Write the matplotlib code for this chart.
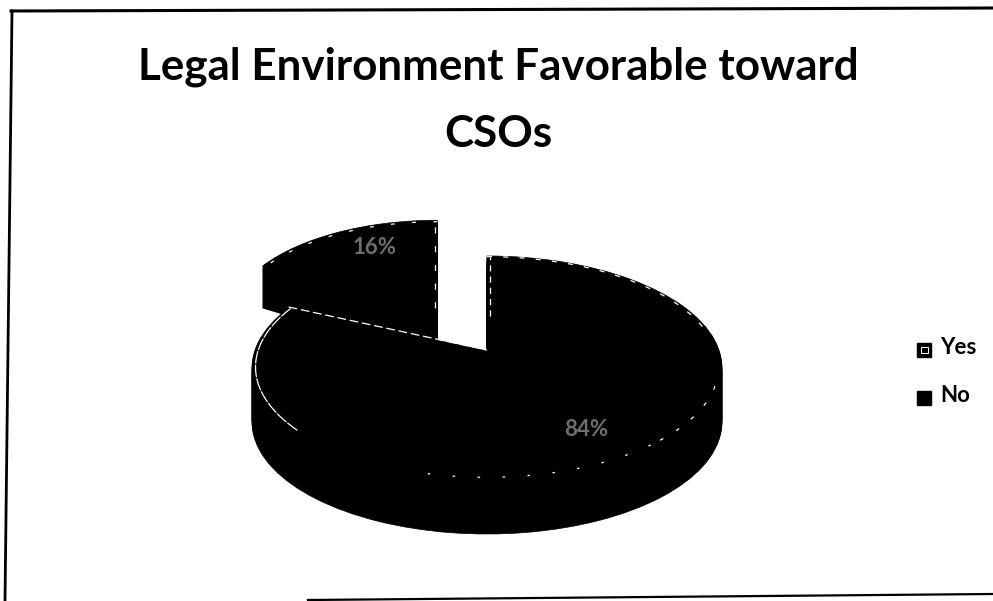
import numpy as np
import matplotlib
matplotlib.use("Agg")
import matplotlib.pyplot as plt
from matplotlib.patches import Rectangle

categories = ["Yes", "No"]
shares = [16, 84]
share_labels = ["16%", "84%"]
title_lines = ["Legal Environment Favorable toward", "CSOs"]

W, H = 993, 601
plt.rcParams['font.family'] = ['Lato', 'DejaVu Sans']
fig = plt.figure(figsize=(W / 100, H / 100), dpi=100, facecolor='white')

# Full-figure axes for frame and text, in image pixels
bg = fig.add_axes([0, 0, 1, 1])
bg.set_xlim(0, W); bg.set_ylim(H, 0); bg.axis('off')
bg.plot([12, 5], [11, 601], color='black', lw=2.0)
bg.plot([11, W], [11, 8], color='black', lw=2.2)
bg.plot([308, W], [600, 594], color='black', lw=1.6)

bg.text(498, 67, title_lines[0], ha='center', va='center', fontsize=31.7, fontweight='bold', color='black')
bg.text(498, 134, title_lines[1], ha='center', va='center', fontsize=31.7, fontweight='bold', color='black')

# Pie axes: one data unit = rx pixels wide, ry pixels high
cx, cy, rx, ry = 487, 367, 235, 112
xr = 1.3
pie_ax = fig.add_axes([(cx - xr * rx) / W, (H - (cy + xr * ry)) / H,
                       2 * xr * rx / W, 2 * xr * ry / H])
pie_ax.patch.set_alpha(0)

yes_angle = 360 * shares[0] / sum(shares)
start = 90 + yes_angle
explode = [0.44, 0]
yes_radius = 0.88
yes_dy = 5 / ry
apex_lift = 17 / ry   # the perspective apex sits above the ellipse centre


def draw_yes(depth_px):
    wedges, _ = pie_ax.pie(shares, explode=explode, startangle=start, counterclock=False,
                           colors=['black', 'black'], radius=yes_radius,
                           center=(0, yes_dy - depth_px / ry),
                           wedgeprops=dict(edgecolor='black', linewidth=0.5))
    wedges[1].set_visible(False)
    return wedges[0]


def draw_no(depth_px):
    wedges, _ = pie_ax.pie(shares, explode=explode, startangle=start, counterclock=False,
                           colors=['black', 'black'], radius=1.0,
                           center=(0, -depth_px / ry),
                           wedgeprops=dict(edgecolor='black', linewidth=0.5))
    wedges[0].set_visible(False)
    w = wedges[1]
    p = w.get_path()
    c = np.array(w.center)
    p.vertices[np.all(np.isclose(p.vertices, c), axis=1)] = c + [0, apex_lift]
    return w


for depth in range(42, -1, -1):
    yes_wedge = draw_yes(depth)
for depth in range(55, -1, -2):
    no_wedge = draw_no(depth)

# Scanned highlights along the slice edges
hl = dict(color='white', lw=0.9, zorder=8)

# Yes: outer arc and right-hand radial edge
yc = np.array(yes_wedge.center)
t = np.radians(np.linspace(0, yes_angle, 40))
r = yes_radius * 0.985
pie_ax.plot(yc[0] - r * np.sin(t), yc[1] + r * np.cos(t), ls=(0, (3, 14)), **hl)
pie_ax.plot([yc[0] - 0.008] * 2, [yc[1] + 0.1, yc[1] + r], ls=(0, (5, 10)), **hl)

# No: notch edges
apex = np.array([0, apex_lift])
pie_ax.plot([0.012, 0.012], [apex[1] + 0.3, 0.985], ls=(0, (5, 4)), **hl)
a = np.radians(yes_angle)
corner = np.array([-np.sin(a), np.cos(a)])
pie_ax.plot([corner[0], apex[0]], [corner[1], apex[1]], ls=(0, (7, 3)), **hl)

# No: outer arc pieces, running clockwise from the top
r = 0.985
for a0, a1, ls in [(0, 70, (0, (4, 9))), (100, 135, (0, (3, 12))), (135, 200, (0, (2, 18))),
                   (235, 302, (0, (10, 1)))]:
    t = np.radians(np.linspace(a0, a1, 60))
    pie_ax.plot(r * np.sin(t), r * np.cos(t), ls=ls, **hl)

pie_ax.set_aspect('auto')
pie_ax.set_xlim(-xr, xr)
pie_ax.set_ylim(-xr, xr)
pie_ax.axis('off')

# Slice labels
fig.text(375 / W, 1 - 247 / H, share_labels[0], ha='center', va='center', fontsize=16,
         fontweight='bold', color='#6e6e6e')
fig.text(586 / W, 1 - 430 / H, share_labels[1], ha='center', va='center', fontsize=16,
         fontweight='bold', color='#6e6e6e')

# Legend
for name, my, ty, inner in zip(categories, [350, 398], [348, 396], [True, False]):
    bg.add_patch(Rectangle((917, my - 7), 14, 14, facecolor='black', edgecolor='black', zorder=5))
    if inner:
        bg.add_patch(Rectangle((921, my - 3), 7, 6, facecolor='none', edgecolor='white', lw=0.7, zorder=6))
    bg.text(940, ty, name, ha='left', va='center', fontsize=16, fontweight='bold', color='black')

fig.savefig('out.png', dpi=100)
